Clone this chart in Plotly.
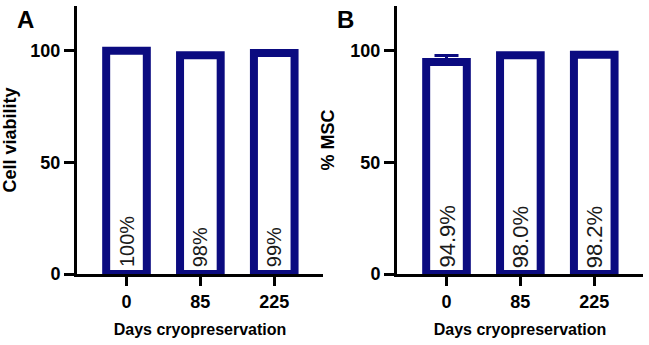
import plotly.graph_objects as go

days = ["0", "85", "225"]
viability = [100, 98, 99]
viability_labels = ["100%", "98%", "99%"]
msc = [94.9, 98.0, 98.2]
msc_err = [2.9, 0.4, 0.4]
msc_labels = ["94.9%", "98.0%", "98.2%"]
y_ticks = [0, 50, 100]

NAVY = "#0b0b80"
FONT = "Liberation Sans, Arial, sans-serif"

fig = go.Figure()

fig.add_trace(go.Bar(
    x=days, y=viability,
    xaxis="x", yaxis="y",
    width=0.55,
    marker=dict(color="white", line=dict(color=NAVY, width=8)),
    showlegend=False, hoverinfo="skip",
))

fig.add_trace(go.Bar(
    x=days, y=msc,
    xaxis="x2", yaxis="y2",
    width=0.55,
    marker=dict(color="white", line=dict(color=NAVY, width=8)),
    error_y=dict(type="data", symmetric=False, array=msc_err, arrayminus=[0] * len(msc_err),
                 visible=True, color=NAVY, thickness=3, width=12),
    showlegend=False, hoverinfo="skip",
))

W, H = 649, 345
def px_x(p):
    return p / W
def px_y(p):
    return (H - p) / H

ydom = [px_y(274), px_y(6)]

xaxis_common = dict(
    type="category", range=[-0.67, 2.66],
    showline=True, linecolor="black", linewidth=3,
    ticks="outside", ticklen=9, tickwidth=3, tickcolor="black",
    tickfont=dict(family=FONT, size=18, color="black", weight="bold"),
    showgrid=False, zeroline=False, automargin=False,
    title=dict(text="<b>Days cryopreservation</b>", font=dict(family=FONT, size=16, color="black"), standoff=14),
)
yaxis_common = dict(
    range=[0, 120], tickvals=y_ticks,
    showline=True, linecolor="black", linewidth=3,
    ticks="outside", ticklen=10, tickwidth=3, tickcolor="black",
    tickfont=dict(family=FONT, size=18, color="black", weight="bold"),
    showgrid=False, zeroline=False, automargin=False,
)

annotations = [
    dict(text="<b>A</b>", x=px_x(15), y=px_y(4), xref="paper", yref="paper",
         xanchor="left", yanchor="top", showarrow=False,
         font=dict(family=FONT, size=24, color="black")),
    dict(text="<b>B</b>", x=px_x(335), y=px_y(4), xref="paper", yref="paper",
         xanchor="left", yanchor="top", showarrow=False,
         font=dict(family=FONT, size=24, color="black")),
]
for i, lab in enumerate(viability_labels):
    annotations.append(dict(text=lab, x=i, y=0, xref="x", yref="y", textangle=-90,
                            xanchor="center", yanchor="bottom", yshift=5, showarrow=False,
                            font=dict(family=FONT, size=20, color="#1a1a1a")))
for i, lab in enumerate(msc_labels):
    annotations.append(dict(text=lab, x=i, y=0, xref="x2", yref="y2", textangle=-90,
                            xanchor="center", yanchor="bottom", yshift=4, showarrow=False,
                            font=dict(family=FONT, size=22, color="#1a1a1a")))

fig.update_layout(
    width=W, height=H,
    margin=dict(l=0, r=0, t=0, b=0),
    paper_bgcolor="white", plot_bgcolor="white",
    barmode="overlay",
    xaxis=dict(domain=[px_x(77), px_x(323)], anchor="y", **xaxis_common),
    yaxis=dict(domain=ydom, anchor="x",
               title=dict(text="<b>Cell viability</b>", font=dict(family=FONT, size=18, color="black"), standoff=12),
               **yaxis_common),
    xaxis2=dict(domain=[px_x(397), px_x(643)], anchor="y2", **xaxis_common),
    yaxis2=dict(domain=ydom, anchor="x2",
                title=dict(text="<b>% MSC</b>", font=dict(family=FONT, size=18, color="black"), standoff=12),
                **yaxis_common),
    annotations=annotations,
)

fig.write_html("out.html", config={"displayModeBar": False},
               post_script="document.body.style.margin='0';document.body.style.overflow='hidden';")
